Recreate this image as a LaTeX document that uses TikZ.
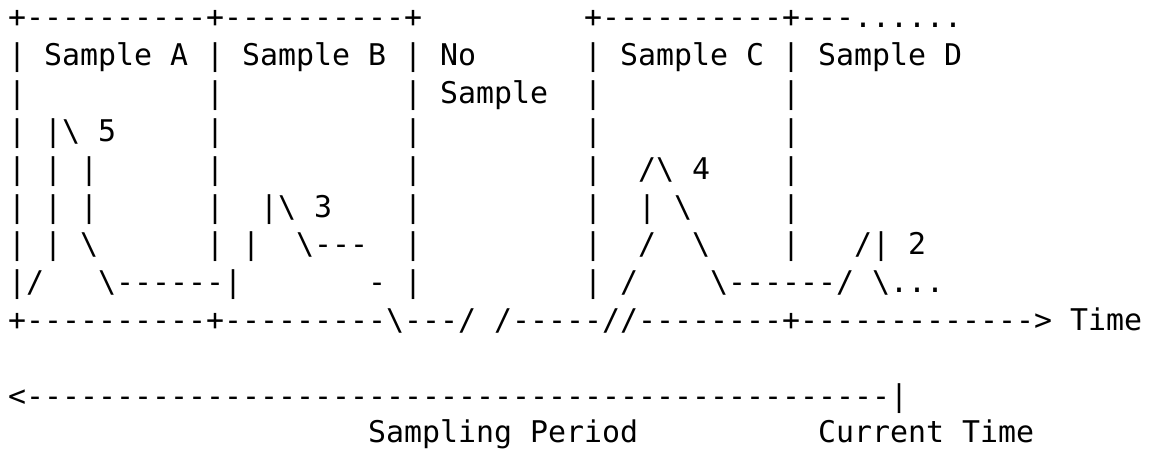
\documentclass[tikz,border=0pt]{standalone}
\usepackage{fontspec}
\setmonofont{DejaVu Sans Mono}
\tikzset{
  asciiline/.style={font=\ttfamily\fontsize{14.95pt}{18.9pt}\selectfont, anchor=base west, inner sep=0pt, text=black}
}
\newcommand{\bs}{\textbackslash{}}
\begin{document}
\begin{tikzpicture}[x=1pt,y=1pt]
\useasboundingbox (0,0) rectangle (575.5,-224.5);
\node[asciiline] (l1)  at (3.85,-14.0)   {+----------+----------+~~~~~~~~~+----------+---......};
\node[asciiline] (l2)  at (3.85,-32.9)   {|~Sample~A~|~Sample~B~|~No~~~~~~|~Sample~C~|~Sample~D};
\node[asciiline] (l3)  at (3.85,-51.8)   {|~~~~~~~~~~|~~~~~~~~~~|~Sample~~|~~~~~~~~~~|};
\node[asciiline] (l4)  at (3.85,-70.7)   {|~|\bs~5~~~~~|~~~~~~~~~~|~~~~~~~~~|~~~~~~~~~~|};
\node[asciiline] (l5)  at (3.85,-89.6)   {|~|~|~~~~~~|~~~~~~~~~~|~~~~~~~~~|~~/\bs~4~~~~|};
\node[asciiline] (l6)  at (3.85,-108.5)  {|~|~|~~~~~~|~~|\bs~3~~~~|~~~~~~~~~|~~|~\bs~~~~~|};
\node[asciiline] (l7)  at (3.85,-127.4)  {|~|~\bs~~~~~~|~|~~\bs---~~|~~~~~~~~~|~~/~~\bs~~~~|~~~/|~2};
\node[asciiline] (l8)  at (3.85,-146.3)  {|/~~~\bs------|~~~~~~~-~|~~~~~~~~~|~/~~~~\bs------/~\bs...};
\node[asciiline] (l9)  at (3.85,-165.2)  {+----------+---------\bs---/~/-----//--------+------------->~Time};
\node[asciiline] (l11) at (3.85,-203.0)  {<------------------------------------------------|};
\node[asciiline] (l12) at (3.85,-221.0)  {~~~~~~~~~~~~~~~~~~~~Sampling~Period~~~~~~~~~~Current~Time};
\end{tikzpicture}
\end{document}
